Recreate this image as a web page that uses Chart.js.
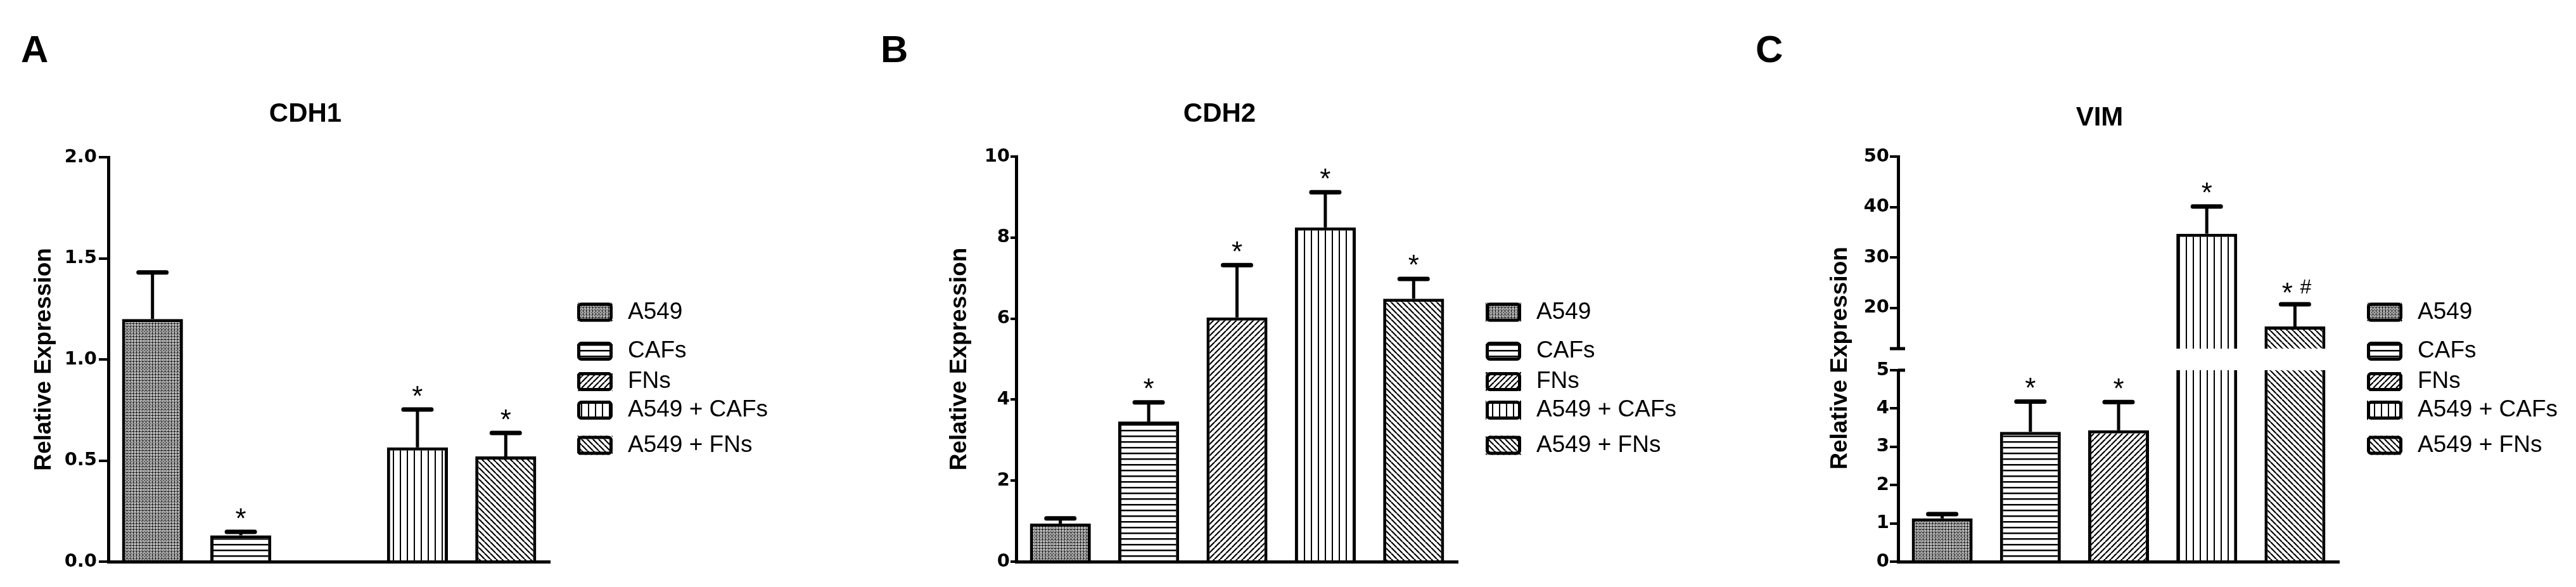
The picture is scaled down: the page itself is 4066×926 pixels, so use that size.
<!DOCTYPE html>
<html>
<head>
<meta charset="utf-8">
<script src="https://cdn.jsdelivr.net/npm/chart.js@4.4.1/dist/chart.umd.min.js"></script>
<style>
html,body{margin:0;padding:0;background:#fff;}
#wrap{position:relative;width:4066px;height:926px;background:#fff;overflow:hidden;}
#wrap canvas{position:absolute;top:0;}
</style>
</head>
<body>
<div id="wrap">
  <canvas id="cA" style="left:0px;width:1350px;height:926px" width="1350" height="926"></canvas>
  <canvas id="cB" style="left:1350px;width:1370px;height:926px" width="1370" height="926"></canvas>
  <canvas id="cCl" style="left:2720px;width:1346px;height:926px" width="1346" height="926"></canvas>
  <canvas id="cCu" style="left:2720px;width:1346px;height:926px" width="1346" height="926"></canvas>
</div>
<script>
// ---------------- DATA ----------------
const groups = ['A549', 'CAFs', 'FNs', 'A549 + CAFs', 'A549 + FNs'];

const cdh1Mean  = [1.20, 0.13, null, 0.565, 0.52];
const cdh1Sem   = [0.23, 0.017, null, 0.187, 0.116];
const cdh1Marks = ['', '*', '', '*', '*'];
const cdh1Ticks = [0, 0.5, 1.0, 1.5, 2.0];

const cdh2Mean  = [0.94, 3.46, 6.03, 8.25, 6.49];
const cdh2Sem   = [0.13, 0.47, 1.29, 0.87, 0.49];
const cdh2Marks = ['', '*', '*', '*', '*'];
const cdh2Ticks = [0, 2, 4, 6, 8, 10];

const vimMean  = [1.13, 3.39, 3.43, 34.7, 16.3];
const vimSem   = [0.11, 0.79, 0.74, 5.4, 4.4];
const vimMarks = ['', '*', '*', '*', '*#'];
const vimLowTicks  = [0, 1, 2, 3, 4, 5];
const vimHighTicks = [20, 30, 40, 50];
const vimBreakLow  = 5;     // top of lower segment
const vimBreakHigh = 11.9;  // bottom of upper segment

const titles = ['CDH1', 'CDH2', 'VIM'];
const letters = ['A', 'B', 'C'];
const yTitle = 'Relative Expression';

// ---------------- STYLE ----------------
const FONT = "'Liberation Sans', Arial, sans-serif";
const TICKFONT = "'DejaVu Sans', 'Liberation Sans', sans-serif";
Chart.defaults.font.family = FONT;
Chart.defaults.color = '#000';

function tile(w, h, draw) {
  const c = document.createElement('canvas');
  c.width = w; c.height = h;
  const g = c.getContext('2d');
  g.fillStyle = '#fff'; g.fillRect(0, 0, w, h);
  g.fillStyle = '#000'; g.strokeStyle = '#000';
  draw(g, w, h);
  return c;
}
const tiles = [
  tile(5, 5, g => { g.fillRect(0, 0, 5, 1); g.fillRect(0, 0, 1, 5); g.fillStyle = '#444'; g.fillRect(2, 2, 2, 2); }),
  tile(9, 9, g => { g.fillRect(0, 3, 9, 2); g.fillStyle = '#888'; g.fillRect(0, 5, 9, 1); }),
  tile(9, 9, (g, w, h) => { g.lineWidth = 2.2; for (const o of [-9, 0, 9]) { g.beginPath(); g.moveTo(o, h); g.lineTo(o + w, 0); g.stroke(); } }),
  tile(11, 11, g => { g.fillRect(4, 0, 2, 11); }),
  tile(9, 9, (g, w, h) => { g.lineWidth = 2.2; for (const o of [-9, 0, 9]) { g.beginPath(); g.moveTo(o, 0); g.lineTo(o + w, h); g.stroke(); } })
];
const pctx = document.createElement('canvas').getContext('2d');
const patterns = tiles.map(t => pctx.createPattern(t, 'repeat'));

function line(ctx, x1, y1, x2, y2) { ctx.beginPath(); ctx.moveTo(x1, y1); ctx.lineTo(x2, y2); ctx.stroke(); }

// error bars + significance marks
function errPlugin(mean, sem, marks) {
  return {
    id: 'err',
    afterDatasetsDraw(chart) {
      const ctx = chart.ctx, y = chart.scales.y, meta = chart.getDatasetMeta(0);
      ctx.save();
      ctx.strokeStyle = '#000'; ctx.fillStyle = '#000';
      meta.data.forEach((bar, i) => {
        if (mean[i] == null) return;
        const top = mean[i] + sem[i];
        if (top > y.max + 1e-9 || top < y.min) return;
        const yt = y.getPixelForValue(top);
        const yb = y.getPixelForValue(Math.max(Math.min(mean[i], y.max), y.min));
        ctx.lineCap = 'butt'; ctx.lineWidth = 5;
        line(ctx, bar.x, yb, bar.x, yt);
        ctx.lineCap = 'round'; ctx.lineWidth = 7;
        line(ctx, bar.x - 22, yt, bar.x + 22, yt);
        const m = marks[i];
        ctx.textAlign = 'center'; ctx.textBaseline = 'alphabetic';
        if (m === '*') {
          ctx.font = `44px ${FONT}`;
          ctx.fillText('*', bar.x, yt - 6.5);
        } else if (m === '*#') {
          ctx.font = `44px ${FONT}`;
          ctx.fillText('*', bar.x - 12, yt - 3);
          ctx.font = `32px ${FONT}`;
          ctx.fillText('#', bar.x + 17, yt - 17);
        }
      });
      ctx.restore();
    }
  };
}

const legendRows = [492.5, 554, 602, 647, 702.5];
function decorPlugin(d) {
  return {
    id: 'decor',
    afterDraw(chart) {
      const ctx = chart.ctx;
      ctx.save();
      ctx.fillStyle = '#000'; ctx.strokeStyle = '#000';
      if (d.letter) {
        ctx.font = `bold 60px ${FONT}`; ctx.textAlign = 'left'; ctx.textBaseline = 'alphabetic';
        ctx.fillText(d.letter, d.letterX, 98);
      }
      if (d.title) {
        ctx.font = `bold 42px ${FONT}`; ctx.textAlign = 'center'; ctx.textBaseline = 'alphabetic';
        ctx.fillText(d.title, d.titleX, d.titleY);
      }
      if (d.legendX != null) {
        groups.forEach((g, i) => {
          const yc = legendRows[i];
          ctx.fillStyle = patterns[i];
          ctx.fillRect(d.legendX, yc - 15, 56, 30);
          ctx.lineWidth = 5; ctx.strokeStyle = '#000';
          ctx.beginPath(); ctx.roundRect(d.legendX + 2.5, yc - 12.5, 51, 25, 4); ctx.stroke();
          ctx.fillStyle = '#000';
          ctx.font = `37px ${FONT}`; ctx.textAlign = 'left'; ctx.textBaseline = 'middle';
          ctx.fillText(g, d.legendX + 80, yc);
        });
      }
      if (d.yTitleX != null) {
        ctx.translate(d.yTitleX, d.yTitleY);
        ctx.rotate(-Math.PI / 2);
        ctx.font = `bold 37px ${FONT}`; ctx.textAlign = 'center'; ctx.textBaseline = 'middle';
        ctx.fillText(yTitle, 0, 0);
        ctx.setTransform(1, 0, 0, 1, 0, 0);
      }
      if (d.breakAt) {
        const a = chart.chartArea;
        ctx.lineWidth = 5; ctx.lineCap = 'butt';
        if (d.breakAt === 'bottom') line(ctx, a.left - 13, a.bottom, a.left + 11, a.bottom);
        else line(ctx, a.left, a.top, a.left + 11, a.top);
      }
      ctx.restore();
    }
  };
}

function barChart(id, o) {
  return new Chart(document.getElementById(id), {
    type: 'bar',
    data: {
      labels: groups,
      datasets: [{
        data: o.mean,
        backgroundColor: patterns,
        borderColor: '#000',
        borderWidth: 5,
        borderSkipped: 'start',
        barPercentage: 0.69,
        categoryPercentage: 1,
        clip: 0
      }]
    },
    options: {
      responsive: false,
      animation: false,
      events: [],
      layout: { padding: o.pad },
      plugins: { legend: { display: false }, tooltip: { enabled: false }, title: { display: false } },
      scales: {
        x: {
          type: 'category',
          offset: true,
          ticks: { display: false },
          grid: { display: false, drawTicks: false },
          border: { display: o.xBorder, color: '#000', width: 5 },
          afterFit: s => { s.height = 0; }
        },
        y: {
          type: 'linear',
          min: o.min, max: o.max,
          afterBuildTicks: s => { s.ticks = o.ticks.map(v => ({ value: v })); },
          afterFit: s => { s.width = o.yWidth; },
          ticks: {
            font: { family: TICKFONT, size: 29, weight: 'bold' },
            color: '#000',
            padding: o.tickPad,
            callback: v => o.fmt(v)
          },
          grid: { display: true, drawOnChartArea: false, drawTicks: true, tickLength: o.tickLen, color: '#000', lineWidth: 4 },
          border: { display: true, color: '#000', width: 5 },
          title: {
            display: !!o.yTitle, text: yTitle, color: '#000',
            font: { family: FONT, size: 37, weight: 'bold' },
            padding: { top: 0, bottom: 0 }
          }
        }
      }
    },
    plugins: [errPlugin(o.mean, o.sem, o.marks), decorPlugin(o.decor)]
  });
}

// Panel A
barChart('cA', {
  mean: cdh1Mean, sem: cdh1Sem, marks: cdh1Marks, ticks: cdh1Ticks,
  min: 0, max: 2, fmt: v => v.toFixed(1),
  pad: { left: 47.8, right: 482, top: 248, bottom: 40 }, yWidth: 123.2,
  tickLen: 15, tickPad: 3, yTitle: true, xBorder: true,
  decor: { letter: letters[0], letterX: 33, title: titles[0], titleX: 482, titleY: 192, legendX: 911 }
});

// Panel B
barChart('cB', {
  mean: cdh2Mean, sem: cdh2Sem, marks: cdh2Marks, ticks: cdh2Ticks,
  min: 0, max: 10, fmt: v => String(v),
  pad: { left: 142.8, right: 419, top: 247, bottom: 40 }, yWidth: 111.2,
  tickLen: 9, tickPad: 1, yTitle: true, xBorder: true,
  decor: { letter: letters[1], letterX: 40, title: titles[1], titleX: 575, titleY: 192, legendX: 995 }
});

// Panel C (broken axis: lower 0-5, upper ~12-50)
barChart('cCl', {
  mean: vimMean, sem: vimSem, marks: vimMarks, ticks: vimLowTicks,
  min: 0, max: vimBreakLow, fmt: v => String(v),
  pad: { left: 176, right: 374, top: 584, bottom: 40 }, yWidth: 100,
  tickLen: 13, tickPad: 1, yTitle: false, xBorder: true,
  decor: { letter: letters[2], letterX: 51, title: titles[2], titleX: 594, titleY: 198, legendX: 1016, yTitleX: 185, yTitleY: 565, breakAt: 'top' }
});
barChart('cCu', {
  mean: vimMean, sem: vimSem, marks: vimMarks, ticks: vimHighTicks,
  min: vimBreakHigh, max: 50, fmt: v => String(v),
  pad: { left: 176, right: 374, top: 247, bottom: 376 }, yWidth: 100,
  tickLen: 13, tickPad: 1, yTitle: false, xBorder: false,
  decor: { breakAt: 'bottom' }
});
</script>
</body>
</html>
